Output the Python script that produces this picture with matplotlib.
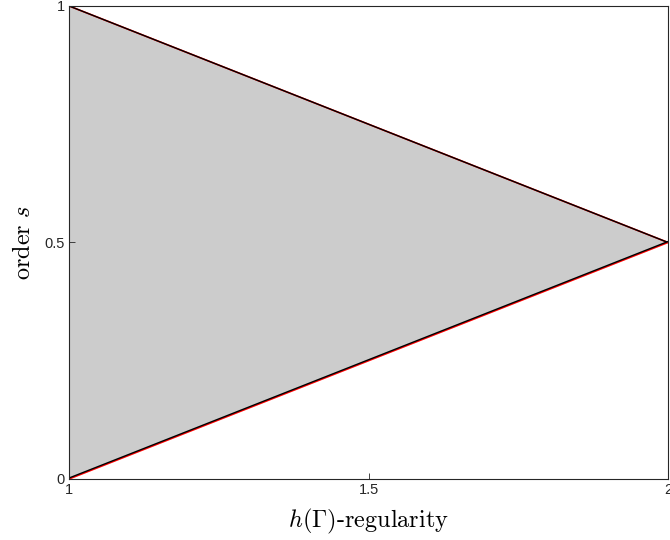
import matplotlib
matplotlib.use("Agg")
import matplotlib.pyplot as plt

# vertices of the admissible region
h_vals = [1, 1, 2]
s_vals = [0, 1, 0.5]

upper_h = [1, 2]
upper_s = [1, 0.5]
lower_h = [1, 2]
lower_s = [0, 0.5]

xticks = [1, 1.5, 2]
yticks = [0, 0.5, 1]

plt.rcParams['mathtext.fontset'] = 'cm'
plt.rcParams['font.family'] = ['Liberation Sans', 'DejaVu Sans']

fig = plt.figure(figsize=(6.7, 5.4), dpi=100)
ax = fig.add_axes([0.103, 0.113, 0.894, 0.876])

ax.fill(h_vals, s_vals, color='#cccccc', lw=0)
ax.plot(upper_h, upper_s, color='red', lw=1.2)
ax.plot(upper_h, upper_s, color='black', lw=1.0)
ax.plot(lower_h, lower_s, color='red', lw=1.2)
ax.plot(lower_h, [v + 0.002 for v in lower_s], color='black', lw=1.0)

ax.set_xlim(1, 2)
ax.set_ylim(0, 1)
ax.set_xticks(xticks)
ax.set_xticklabels(['1', '1.5', '2'])
ax.set_yticks(yticks)
ax.set_yticklabels(['0', '0.5', '1'])
ax.tick_params(direction='in', length=4, width=0.6, labelsize=10.5,
               colors='#262626', pad=3)
for sp in ax.spines.values():
    sp.set_color('#262626')
    sp.set_linewidth(0.8)

ax.set_xlabel(r'$h(\Gamma)\mathrm{\text{-}regularity}$', fontsize=17.5,
              labelpad=7)
ax.set_ylabel(r'$\mathrm{order}\ s$', fontsize=17.5, labelpad=7)

fig.savefig('out.png', dpi=100)
